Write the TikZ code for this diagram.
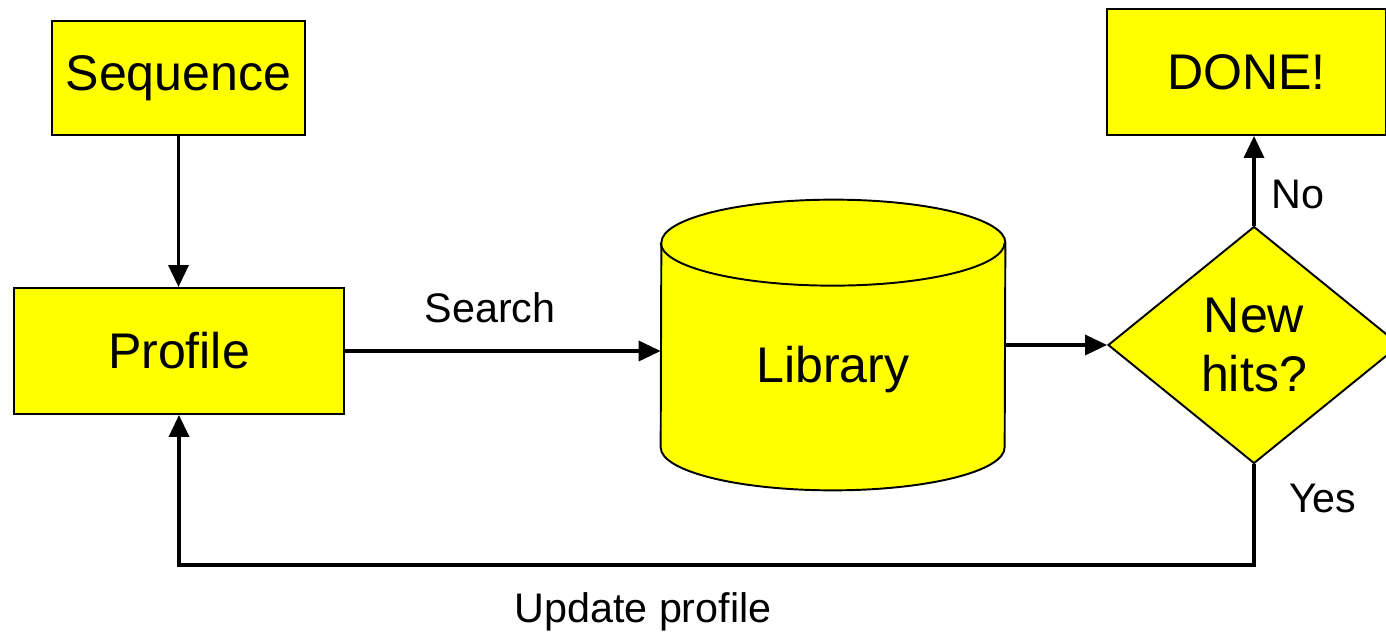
\documentclass[tikz,border=0pt]{standalone}
\usepackage{fontspec}
\setmainfont{Liberation Sans}
\usetikzlibrary{shapes}
\usetikzlibrary{positioning}
\usetikzlibrary{arrows.meta}
\definecolor{boxyellow}{RGB}{255,255,0}
\tikzset{
    box/.style = {rectangle, draw=black, line width=1.1pt, fill=boxyellow, inner sep=0pt, font=\fontsize{28.5}{34}\selectfont},
    libbody/.style = {rectangle, minimum width=6.88cm, minimum height=4.08cm, inner sep=0pt},
    cyl/.style = {draw=black, line width=1.1pt, fill=boxyellow},
    cylrim/.style = {x radius=3.44cm, y radius=0.86cm},
    libtext/.style = {font=\fontsize{28.5}{34}\selectfont},
    decide/.style = {diamond, draw=black, line width=1.1pt, fill=boxyellow, aspect=1.23, minimum width=5.84cm, minimum height=4.74cm, inner sep=0pt, align=center, font=\fontsize{28.5}{34}\selectfont},
    edgen/.style = {-{Triangle[length=0.44cm,width=0.4cm]}, line width=2pt},
    lab/.style = {font=\fontsize{23.5}{28}\selectfont}
}

\begin{document}
\begin{tikzpicture}
\useasboundingbox (0,0) rectangle (27.72,12.76);
\node[box, minimum width=5.06cm, minimum height=2.28cm] at (3.57, 11.2) (seq) {Sequence};
\node[box, minimum width=6.6cm, minimum height=2.52cm] at (3.58, 5.74) (prof) {Profile};
\node[libbody] at (16.66, 5.86) (lib) {};
\path[cyl] (lib.south west) arc[start angle=180, end angle=360, cylrim] -- (lib.north east) arc[start angle=0, end angle=180, cylrim] -- cycle;
\draw[cyl, fill=none] (lib.north west) arc[start angle=180, end angle=360, cylrim];
\node[libtext] at (16.66, 5.36) (libtxt) {Library};
\node[decide] at (25.08, 5.86) (hits) {New\\hits?};
\node[box, minimum width=5.58cm, minimum height=2.52cm] at (24.93, 11.32) (done) {DONE!};
\coordinate (back) at (12.86, 1.46);
%
\draw[edgen] (seq) -- (seq |- prof.north);
\draw[edgen] (prof.east) -- node[lab, above=0.4cm, pos=0.46] {Search} (prof.east -| lib.west);
\draw[edgen] (lib) -- (hits);
\draw[edgen] (hits.north) -- node[lab, right=0.2cm, pos=0.35] {No} (hits.north |- done.south);
\draw[edgen] (hits.south) |- node[lab, right=0.55cm, pos=0.17] {Yes} (back) node[lab, below=0.4cm] {Update profile} -| (prof.south);
\end{tikzpicture}
\end{document}
